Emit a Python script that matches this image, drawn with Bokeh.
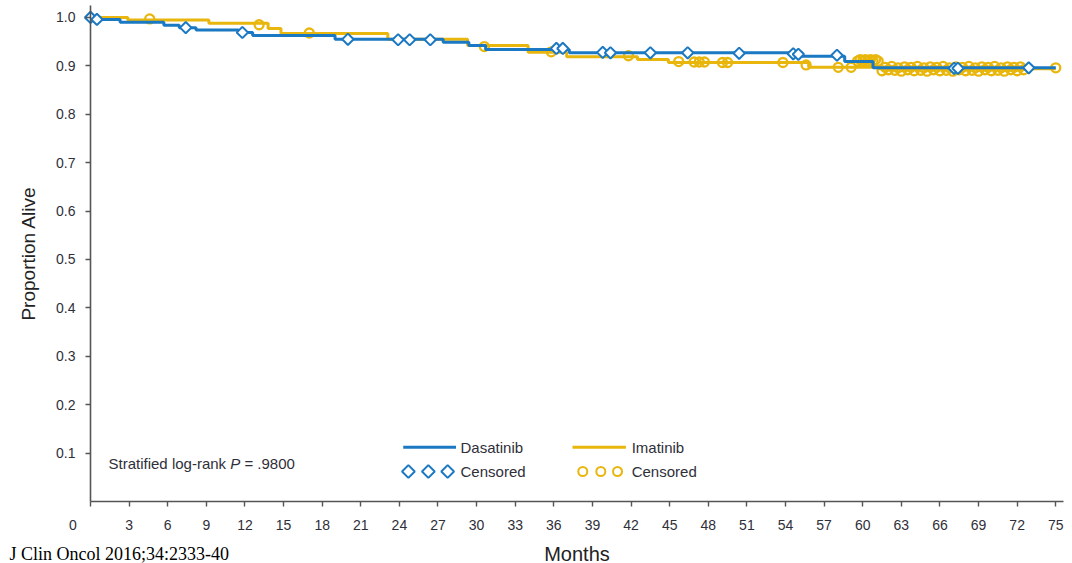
from bokeh.plotting import figure
from bokeh.models import FixedTicker, PrintfTickFormatter, Label, Range1d
from bokeh.embed import file_html
from bokeh.resources import INLINE
import math

# --- data (months, proportion alive) ---
month_ticks = [0, 3, 6, 9, 12, 15, 18, 21, 24, 27, 30, 33, 36, 39, 42, 45, 48, 51, 54, 57, 60, 63, 66, 69, 72, 75]
prop_ticks = [0.1, 0.2, 0.3, 0.4, 0.5, 0.6, 0.7, 0.8, 0.9, 1.0]

dasatinib_t = [0, 0.3, 2.3, 5.7, 6.9, 8.2, 11.5, 12.6, 19.0, 27.4, 29.4, 30.7, 37.2, 55.3, 58.6, 60.8, 75]
dasatinib_s = [1.0, 0.996, 0.990, 0.984, 0.979, 0.974, 0.969, 0.963, 0.955, 0.949, 0.942, 0.934, 0.927, 0.920, 0.909, 0.896, 0.896]

dasatinib_cens_t = [0.0, 0.5, 7.4, 11.8, 20.0, 23.9, 24.8, 26.4, 36.2, 36.7, 39.8, 40.4, 43.5, 46.4, 50.4,
                    54.6, 55.0, 58.0, 67.1, 67.4, 72.9]
dasatinib_cens_s = [1.0, 0.996, 0.979, 0.969, 0.955, 0.954, 0.954, 0.954, 0.936, 0.936, 0.928, 0.927, 0.927, 0.927, 0.926,
                    0.925, 0.924, 0.922, 0.895, 0.895, 0.896]

imatinib_t = [0, 2.9, 9.2, 13.8, 14.8, 23.1, 29.3, 34.0, 37.0, 42.5, 44.9, 55.8, 61.3, 75]
imatinib_s = [1.0, 0.995, 0.988, 0.977, 0.967, 0.955, 0.942, 0.928, 0.919, 0.913, 0.907, 0.897, 0.894, 0.894]

imatinib_cens_t = [4.6, 13.1, 17.0, 30.6, 35.8, 41.8, 45.7, 46.9, 47.3, 47.7, 49.1, 49.5, 53.8, 55.6, 58.1, 59.1,
                   59.6, 59.8, 60.0, 60.2, 60.4, 60.6, 60.8, 61.0, 61.2,
                   61.5, 61.75, 62.0, 62.25, 62.5, 62.75, 63.0, 63.25, 63.5, 63.75, 64.0, 64.25, 64.5, 64.75,
                   65.0, 65.25, 65.5, 65.75, 66.0, 66.25, 66.5, 66.75, 67.0, 67.25, 67.5, 67.75, 68.0, 68.25,
                   68.5, 68.75, 69.0, 69.25, 69.5, 69.75, 70.0, 70.25, 70.5, 70.75, 71.0, 71.25, 71.5, 71.75,
                   72.0, 72.25, 72.5, 75.0]
imatinib_cens_s = [0.997, 0.985, 0.968, 0.940, 0.929, 0.921, 0.909, 0.908, 0.908, 0.908, 0.907, 0.907, 0.907, 0.902, 0.897, 0.897,
                   0.910, 0.913, 0.910, 0.913, 0.910, 0.913, 0.910, 0.913, 0.910,
                   0.890, 0.897, 0.892, 0.899, 0.891, 0.896, 0.889, 0.898, 0.892, 0.897, 0.890, 0.899, 0.891, 0.896,
                   0.889, 0.898, 0.892, 0.897, 0.890, 0.899, 0.891, 0.896, 0.889, 0.898, 0.892, 0.897, 0.890, 0.899,
                   0.891, 0.896, 0.889, 0.898, 0.892, 0.897, 0.890, 0.899, 0.891, 0.896, 0.889, 0.898, 0.892, 0.897,
                   0.890, 0.898, 0.892, 0.896]

BLUE = "#1b78c2"
YELLOW = "#e8b60c"
TXT = "#2f2f3a"
FONT = "Liberation Sans"
DIAMOND = dict(marker="square", angle=math.pi / 4)

# frame spans the whole canvas; both axes are pinned at 0 so the
# margin texts (source line) live inside the frame
p = figure(width=1072, height=563,
           x_range=Range1d(-6.993, 76.30), y_range=Range1d(-0.1281, 1.0351),
           output_backend="svg", toolbar_location=None,
           min_border_left=0, min_border_right=0, min_border_top=0, min_border_bottom=0)
p.outline_line_color = None
p.grid.grid_line_color = None
p.background_fill_color = "white"

# axes
p.xaxis.fixed_location = 0
p.yaxis.fixed_location = 0
p.xaxis.bounds = (0, 75.6)
p.yaxis.bounds = (0, 1.025)
p.xaxis.ticker = FixedTicker(ticks=month_ticks)
# the "0" label sits left of the axis corner in the original
p.xaxis.major_label_overrides = {0: "0\u2003\u2003\u2002"}
p.yaxis.ticker = FixedTicker(ticks=prop_ticks)
p.yaxis.formatter = PrintfTickFormatter(format="%.1f")
for ax in (p.xaxis, p.yaxis):
    ax.axis_line_color = "#555555"
    ax.axis_line_width = 1.6
    ax.major_tick_line_color = "#555555"
    ax.major_tick_line_width = 1.4
    ax.major_tick_out = 5
    ax.major_tick_in = 0
    ax.minor_tick_line_color = None
    ax.major_label_text_font = FONT
    ax.major_label_text_font_size = "14px"
    ax.major_label_text_color = TXT
    ax.axis_label_text_font = FONT
    ax.axis_label_text_font_style = "normal"
    ax.axis_label_text_color = "#222222"
p.xaxis.major_label_standoff = 11
p.yaxis.major_label_standoff = 10
p.xaxis.axis_label = "Months"
p.xaxis.axis_label_text_font_size = "20px"
p.xaxis.axis_label_standoff = 6
p.yaxis.axis_label = "Proportion Alive"
p.yaxis.axis_label_text_font_size = "19px"
p.yaxis.axis_label_standoff = 14

# curves
p.step(imatinib_t, imatinib_s, mode="after", line_color=YELLOW, line_width=3)
p.scatter(imatinib_cens_t, imatinib_cens_s, marker="circle", size=9,
          line_color=YELLOW, line_width=2.3, fill_color=None)
p.step(dasatinib_t, dasatinib_s, mode="after", line_color=BLUE, line_width=3)
p.scatter(dasatinib_cens_t, dasatinib_cens_s, size=8, line_color=BLUE, line_width=2,
          fill_color="white", **DIAMOND)

# legend, drawn by hand (three markers per censor row)
p.line([24.3, 28.4], [0.112, 0.112], line_color=BLUE, line_width=3)
p.line([37.45, 41.6], [0.112, 0.112], line_color=YELLOW, line_width=3)
p.scatter([24.7, 26.25, 27.75], [0.062, 0.062, 0.062], size=9,
          line_color=BLUE, line_width=2, fill_color="white", **DIAMOND)
p.scatter([38.25, 39.65, 40.95], [0.062, 0.062, 0.062], marker="circle", size=9,
          line_color=YELLOW, line_width=2, fill_color="white")


def add_text(x, y, text, size="15px", style="normal", font=FONT, color=TXT, baseline="middle", align="left"):
    p.add_layout(Label(x=x, y=y, text=text, text_font=font,
                       text_font_size=size, text_font_style=style, text_color=color,
                       text_baseline=baseline, text_align=align))


add_text(28.75, 0.112, "Dasatinib")
add_text(42.05, 0.112, "Imatinib")
add_text(28.75, 0.062, "Censored")
add_text(42.05, 0.062, "Censored")

add_text(1.4, 0.079, "Stratified log-rank")
add_text(10.85, 0.079, "P", style="italic")
add_text(11.96, 0.079, "= .9800")

# source line at the bottom-left of the page
add_text(-6.3, -0.0868, "J Clin Oncol 2016;34:2333-40", size="18px",
         font="Liberation Serif", color="#000000", baseline="top")

open("out.html", "w").write(file_html(p, INLINE))
